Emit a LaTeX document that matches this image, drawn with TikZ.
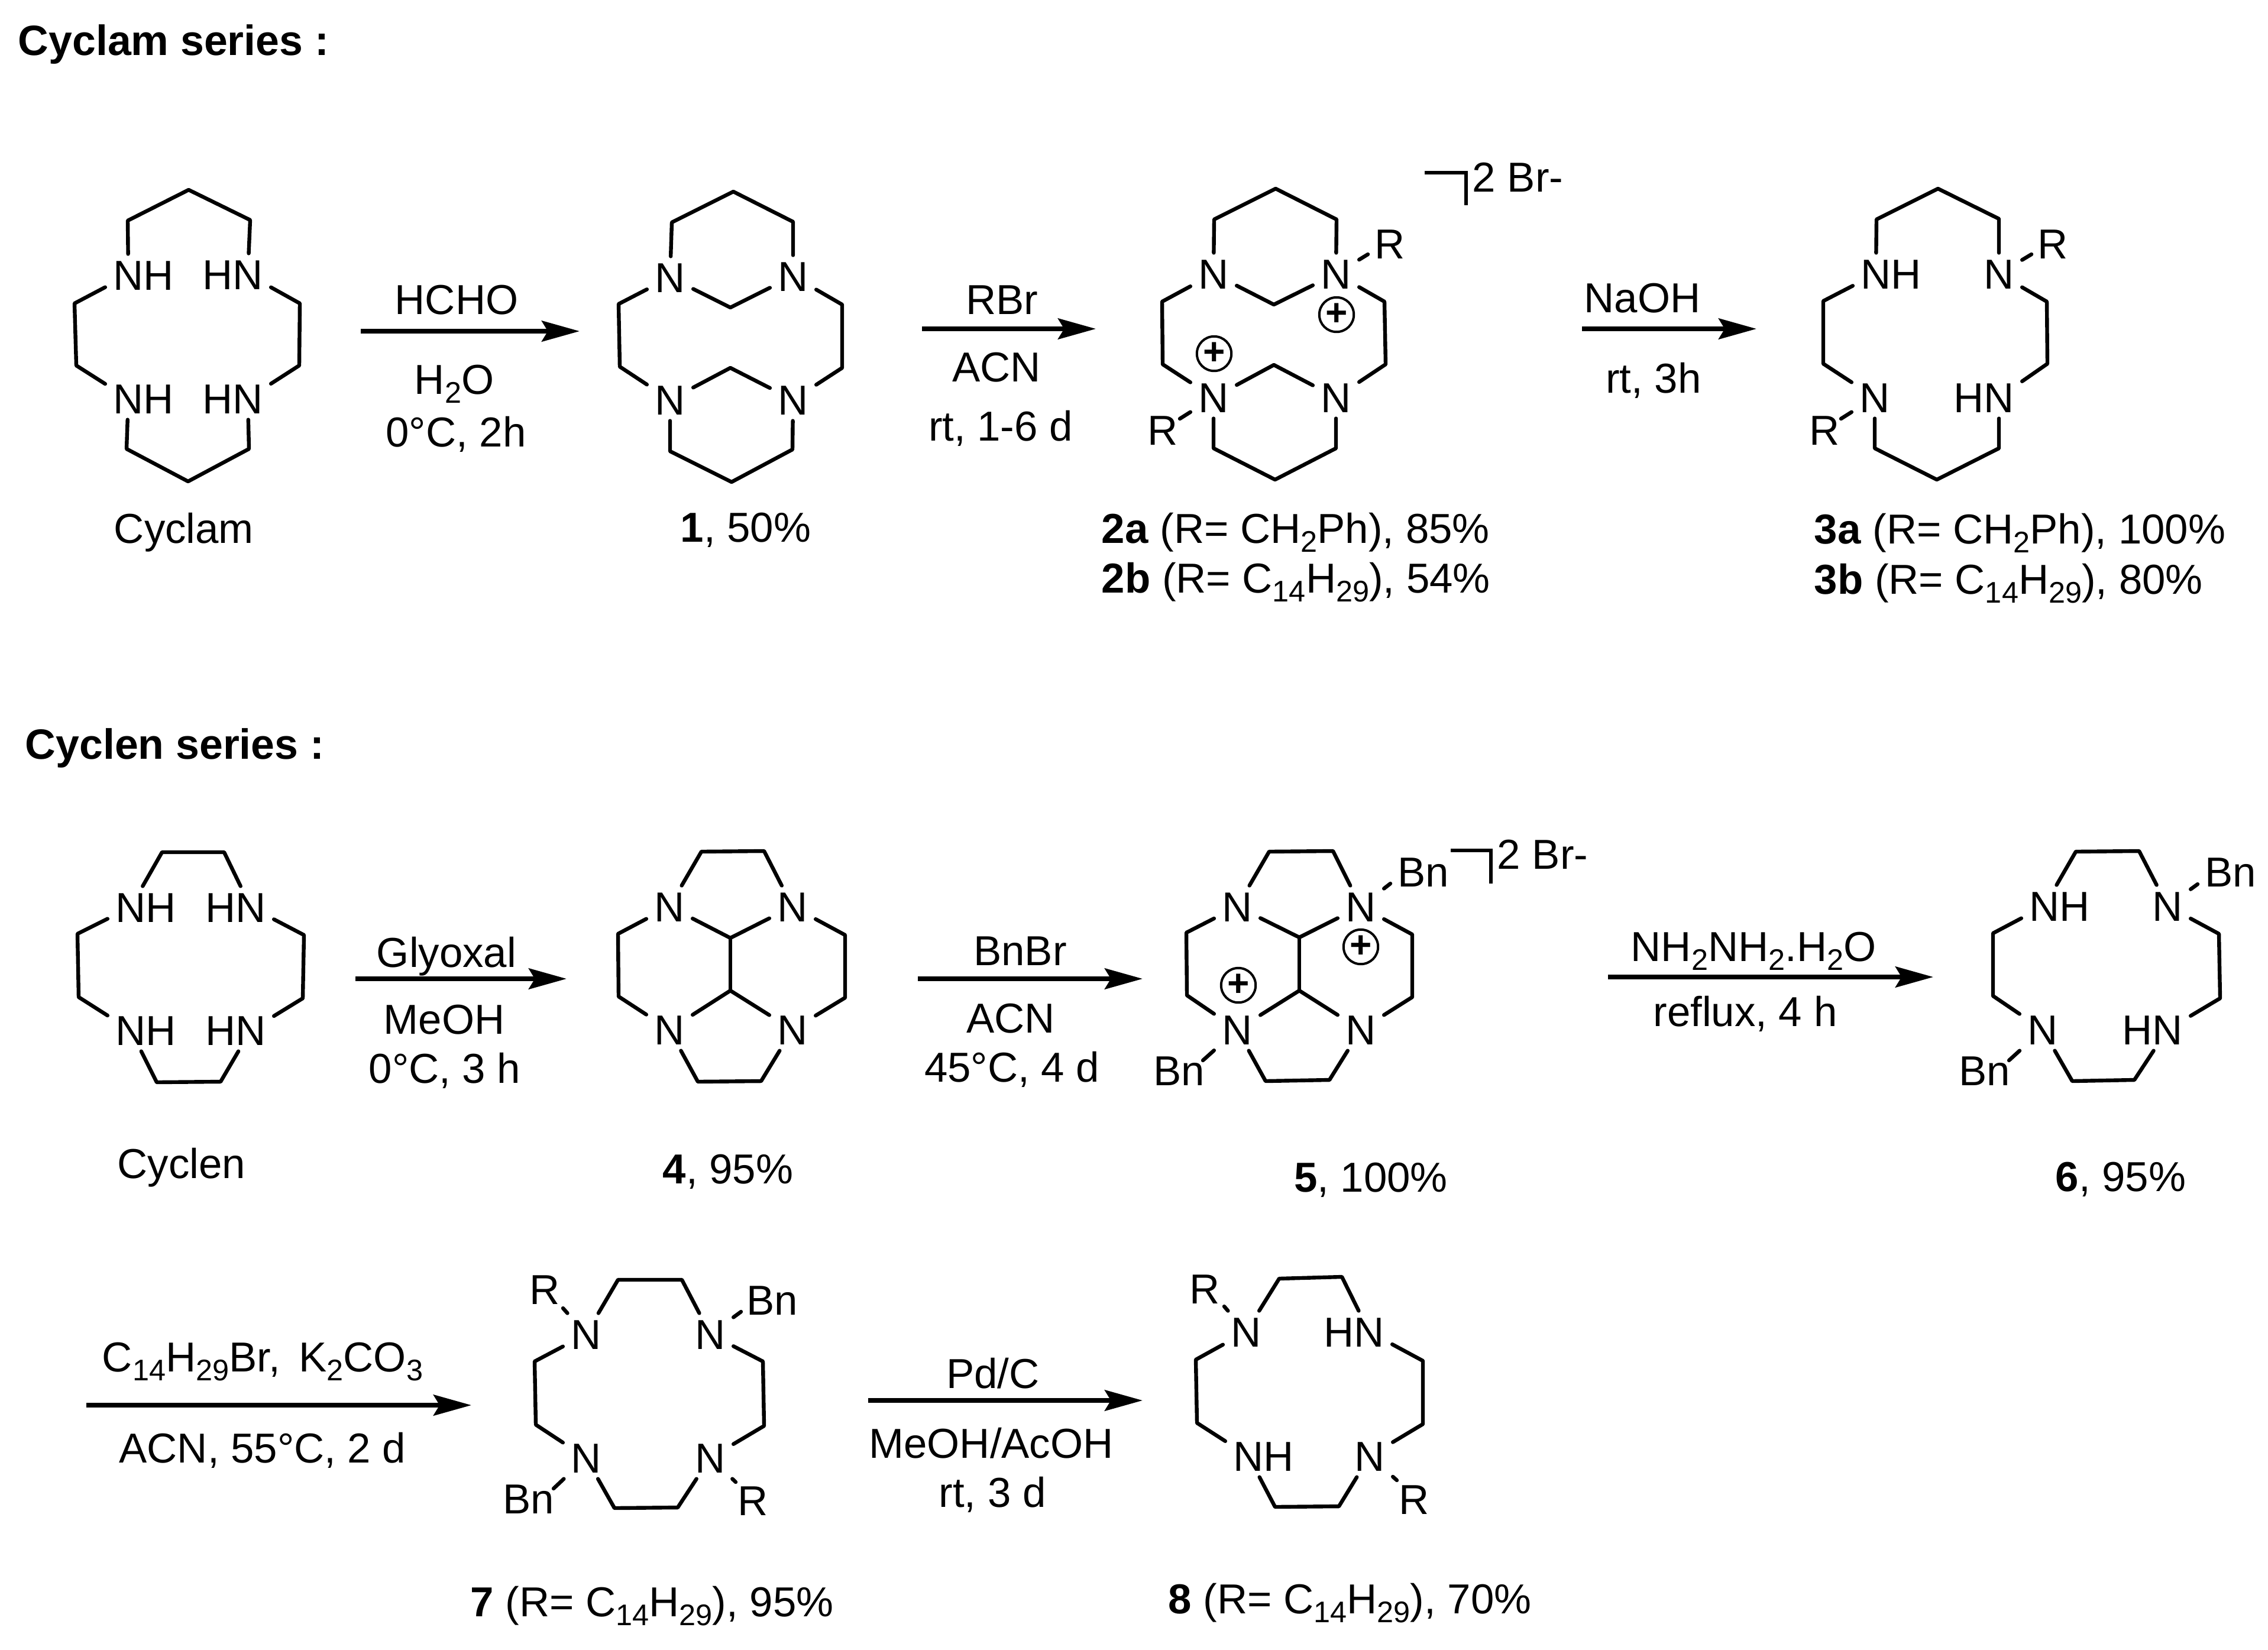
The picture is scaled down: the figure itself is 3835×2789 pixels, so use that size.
\documentclass[tikz,border=0pt]{standalone}
\usepackage{fontspec}
\setmainfont{Liberation Sans}
\usetikzlibrary{arrows.meta}
\newcommand{\sbs}[1]{\raisebox{-3.8pt}{\fontsize{12.6}{12.6}\selectfont #1}}
\newcommand{\ringA}[1]{\draw[bond] (#1a)--(#1ul)--(#1t)--(#1ur)--(#1b)--(#1ru)--(#1rl)--(#1c)--(#1lr)--(#1bo)--(#1ll)--(#1d)--(#1ld)--(#1lu)--(#1a);}
\newcommand{\ringB}[1]{\draw[bond] (#1a)--(#1ul)--(#1ur)--(#1b)--(#1ru)--(#1rl)--(#1c)--(#1lr)--(#1ll)--(#1d)--(#1ld)--(#1lu)--(#1a);}
\newcommand{\verts}[2]{\foreach \n/\x/\y in {#2} {\coordinate (#1\n) at (\x,\y);}}
\tikzset{
  bond/.style={line width=1.6pt,line cap=round,line join=round},
  rxn/.style={line width=1.8pt,-{Stealth[length=16pt,width=8.8pt,inset=2.6pt]}},
  atom/.style={inner xsep=3.2pt,inner ysep=2.4pt,text height=12.6pt,text depth=0pt,anchor=center},
  subst/.style={inner sep=0pt,text height=12.6pt,text depth=0pt,anchor=center},
  lab/.style={inner sep=0pt,anchor=base},
  labw/.style={inner sep=0pt,anchor=base west},
  plusc/.style={circle,draw,line width=1pt,minimum size=14.6pt,inner sep=0pt,font=\fontsize{16}{16}\bfseries\selectfont}
}
\begin{document}
\begin{tikzpicture}[x=0.25pt,y=-0.25pt,font=\fontsize{17.7}{20}\selectfont]
\fill[white] (0,0) rectangle (3835,2789);
\useasboundingbox (0,0) rectangle (3835,2789);
% titles
\node[labw,font=\fontsize{17.9}{20}\selectfont] (tA) at (30,93) {\textbf{Cyclam series :}};
\node[labw,font=\fontsize{17.9}{20}\selectfont] (tB) at (42,1283) {\textbf{Cyclen series :}};
% ---------- Cyclam
\node[atom] (c0a) at (217,465) {N\rlap{H}};
\node[atom] (c0b) at (419,464) {\llap{H}N};
\node[atom] (c0c) at (419,674) {\llap{H}N};
\node[atom] (c0d) at (217,674) {N\rlap{H}};
\verts{c0}{ul/216/373,t/319/321,ur/423/372,ru/507/513,rl/506/618,lr/421/759,bo/318/814,ll/214/759,ld/129/618,lu/126/513}
\ringA{c0}
\node[lab] (c0n) at (311,918) {Cyclam};
% arrow 1
\coordinate (a1s) at (610,560); \coordinate (a1e) at (980,560);
\draw[rxn] (a1s) -- (a1e);
\node[lab] (a1t) at (772,531) {HCHO};
\node[lab] (a1m) at (768,666) {H\sbs{2}O};
\node[lab] (a1b) at (771,755) {0°C, 2h};
% ---------- 1
\node[atom] (c1a) at (1133,469) {N};
\node[atom] (c1b) at (1341,467) {N};
\node[atom] (c1c) at (1341,676) {N};
\node[atom] (c1d) at (1133,676) {N};
\verts{c1}{ul/1136/376,t/1240/324,ur/1341/375,ru/1424/515,rl/1424/622,lr/1340/760,bo/1237/815,ll/1133/763,ld/1048/620,lu/1046/514,m1/1235/520,m2/1235/622}
\ringA{c1}
\draw[bond] (c1a)--(c1m1)--(c1b);
\draw[bond] (c1d)--(c1m2)--(c1c);
\node[lab] (c1n) at (1261,916) {\textbf{1}, 50\%};
% arrow 2
\coordinate (a2s) at (1559,556); \coordinate (a2e) at (1853,556);
\draw[rxn] (a2s) -- (a2e);
\node[lab] (a2t) at (1694,531) {RBr};
\node[lab] (a2m) at (1685,645) {ACN};
\node[lab] (a2b) at (1692,745) {rt, 1-6 d};
% ---------- 2
\node[atom] (c2a) at (2052,463) {N};
\node[atom] (c2b) at (2259,463) {N};
\node[atom] (c2c) at (2259,672) {N};
\node[atom] (c2d) at (2052,672) {N};
\verts{c2}{ul/2053/371,t/2157/319,ur/2260/371,ru/2341/510,rl/2343/616,lr/2259/758,bo/2156/811,ll/2052/758,ld/1966/616,lu/1965/510,m1/2154/515,m2/2154/617}
\ringA{c2}
\draw[bond] (c2a)--(c2m1)--(c2b);
\draw[bond] (c2d)--(c2m2)--(c2c);
\node[subst] (c2r1) at (2350,412) {R};
\node[subst] (c2r2) at (1966,727) {R};
\draw[bond] (c2b) -- ([shift={(-37,18)}]c2r1.center);
\draw[bond] (c2d) -- ([shift={(29,-19)}]c2r2.center);
\node[plusc] (c2p1) at (2260,532) {+};
\node[plusc] (c2p2) at (2053,598) {+};
\verts{br1}{p/2409/292,q/2479/292,r/2479/347}
\draw[bond,line cap=butt,line join=miter] (br1p)--(br1q)--(br1r);
\node[labw] (br1t) at (2489,324) {2 Br-};
\node[labw] (c2n1) at (1862,918) {\textbf{2a} (R= CH\sbs{2}Ph), 85\%};
\node[labw] (c2n2) at (1862,1002) {\textbf{2b} (R= C\sbs{14}H\sbs{29}), 54\%};
% arrow 3
\coordinate (a3s) at (2675,556); \coordinate (a3e) at (2970,556);
\draw[rxn] (a3s) -- (a3e);
\node[lab] (a3t) at (2777,528) {NaOH};
\node[lab] (a3b) at (2796,664) {rt, 3h};
% ---------- 3
\node[atom] (c3a) at (3172,463) {N\rlap{H}};
\node[atom] (c3b) at (3380,463) {N};
\node[atom] (c3c) at (3380,672) {\llap{H}N};
\node[atom] (c3d) at (3170,672) {N};
\verts{c3}{ul/3173/371,t/3277/319,ur/3380/370,ru/3461/510,rl/3462/615,lr/3380/758,bo/3275/811,ll/3170/758,ld/3083/615,lu/3083/509}
\ringA{c3}
\node[subst] (c3r1) at (3471,412) {R};
\node[subst] (c3r2) at (3085,727) {R};
\draw[bond] (c3b) -- ([shift={(-36,18)}]c3r1.center);
\draw[bond] (c3d) -- ([shift={(28,-19)}]c3r2.center);
\node[labw] (c3n1) at (3067,919) {\textbf{3a} (R= CH\sbs{2}Ph), 100\%};
\node[labw] (c3n2) at (3067,1004) {\textbf{3b} (R= C\sbs{14}H\sbs{29}), 80\%};
% ---------- Cyclen
\node[atom] (e0a) at (221,1534) {N\rlap{H}};
\node[atom] (e0b) at (424,1534) {\llap{H}N};
\node[atom] (e0c) at (424,1742) {\llap{H}N};
\node[atom] (e0d) at (221,1742) {N\rlap{H}};
\verts{e0}{ul/274/1441,ur/379/1441,ru/514/1581,rl/512/1688,lr/373/1829,ll/265/1830,ld/133/1686,lu/131/1579}
\ringB{e0}
\node[lab] (e0n) at (307,1992) {Cyclen};
% arrow 4
\coordinate (a4s) at (601,1655); \coordinate (a4e) at (958,1655);
\draw[rxn] (a4s) -- (a4e);
\node[lab] (a4t) at (755,1635) {Glyoxal};
\node[lab] (a4m) at (751,1748) {MeOH};
\node[lab] (a4b) at (752,1831) {0°C, 3 h};
% ---------- 4
\node[atom] (e4a) at (1132,1533) {N};
\node[atom] (e4b) at (1340,1533) {N};
\node[atom] (e4c) at (1340,1741) {N};
\node[atom] (e4d) at (1132,1741) {N};
\verts{e4}{ul/1186/1440,ur/1292/1439,ru/1429/1581,rl/1429/1687,lr/1287/1828,ll/1180/1829,ld/1046/1685,lu/1045/1579,m1/1235/1586,m2/1235/1675}
\ringB{e4}
\draw[bond] (e4a)--(e4m1)--(e4b);
\draw[bond] (e4d)--(e4m2)--(e4c);
\draw[bond] (e4m1)--(e4m2);
\node[lab] (e4n) at (1231,2001) {\textbf{4}, 95\%};
% arrow 5
\coordinate (a5s) at (1552,1655); \coordinate (a5e) at (1932,1655);
\draw[rxn] (a5s) -- (a5e);
\node[lab] (a5t) at (1725,1632) {BnBr};
\node[lab] (a5m) at (1709,1746) {ACN};
\node[lab] (a5b) at (1711,1829) {45°C, 4 d};
% ---------- 5
\node[atom] (e5a) at (2092,1533) {N};
\node[atom] (e5b) at (2301,1533) {N};
\node[atom] (e5c) at (2301,1741) {N};
\node[atom] (e5d) at (2092,1741) {N};
\verts{e5}{ul/2146/1440,ur/2254/1439,ru/2388/1580,rl/2388/1686,lr/2248/1826,ll/2140/1828,ld/2007/1683,lu/2006/1577,m1/2197/1585,m2/2197/1675}
\ringB{e5}
\draw[bond] (e5a)--(e5m1)--(e5b);
\draw[bond] (e5d)--(e5m2)--(e5c);
\draw[bond] (e5m1)--(e5m2);
\node[subst] (e5r1) at (2407,1474) {Bn};
\node[subst] (e5r2) at (1994,1810) {Bn};
\draw[bond] (e5b) -- ([shift={(-56,20)}]e5r1.center);
\draw[bond] (e5d) -- ([shift={(40,-17)}]e5r2.center);
\node[plusc] (e5p1) at (2301,1601) {+};
\node[plusc] (e5p2) at (2094,1666) {+};
\verts{br2}{p/2453/1438,q/2521/1438,r/2521/1494}
\draw[bond,line cap=butt,line join=miter] (br2p)--(br2q)--(br2r);
\node[labw] (br2t) at (2531,1469) {2 Br-};
\node[lab] (e5n) at (2318,2015) {\textbf{5}, 100\%};
% arrow 6
\coordinate (a6s) at (2719,1652); \coordinate (a6e) at (3269,1652);
\draw[rxn] (a6s) -- (a6e);
\node[lab] (a6t) at (2965,1625) {NH\sbs{2}NH\sbs{2}.H\sbs{2}O};
\node[lab] (a6b) at (2951,1735) {reflux, 4 h};
% ---------- 6
\node[atom] (e6a) at (3457,1532) {N\rlap{H}};
\node[atom] (e6b) at (3665,1532) {N};
\node[atom] (e6c) at (3665,1741) {\llap{H}N};
\node[atom] (e6d) at (3454,1741) {N};
\verts{e6}{ul/3510/1440,ur/3617/1439,ru/3752/1579,rl/3754/1688,lr/3609/1826,ll/3504/1828,ld/3370/1684,lu/3370/1578}
\ringB{e6}
\node[subst] (e6r1) at (3772,1474) {Bn};
\node[subst] (e6r2) at (3356,1810) {Bn};
\draw[bond] (e6b) -- ([shift={(-56,21)}]e6r1.center);
\draw[bond] (e6d) -- ([shift={(41,-17)}]e6r2.center);
\node[lab] (e6n) at (3586,2014) {\textbf{6}, 95\%};
% arrow 7
\coordinate (a7s) at (146,2376); \coordinate (a7e) at (797,2376);
\draw[rxn] (a7s) -- (a7e);
\node[lab] (a7t) at (444,2319) {C\sbs{14}H\sbs{29}Br,\hspace{3pt} K\sbs{2}CO\sbs{3}};
\node[lab] (a7b) at (444,2473) {ACN, 55°C, 2 d};
% ---------- 7
\node[atom] (e7a) at (991,2256) {N};
\node[atom] (e7b) at (1201,2256) {N};
\node[atom] (e7c) at (1201,2465) {N};
\node[atom] (e7d) at (991,2465) {N};
\verts{e7}{ul/1045/2164,ur/1153/2164,ru/1290/2302,rl/1292/2411,lr/1146/2549,ll/1039/2550,ld/906/2409,lu/904/2302}
\ringB{e7}
\node[subst] (e7r1) at (921,2180) {R};
\node[subst] (e7r2) at (1306,2198) {Bn};
\node[subst] (e7r3) at (894,2534) {Bn};
\node[subst] (e7r4) at (1273,2537) {R};
\draw[bond] (e7a) -- ([shift={(31,32)}]e7r1.center);
\draw[bond] (e7b) -- ([shift={(-53,20)}]e7r2.center);
\draw[bond] (e7d) -- ([shift={(42,-17)}]e7r3.center);
\draw[bond] (e7c) -- ([shift={(-29,-31)}]e7r4.center);
\node[labw] (e7n) at (795,2733) {\textbf{7} (R= C\sbs{14}H\sbs{29}), 95\%};
% arrow 8
\coordinate (a8s) at (1468,2368); \coordinate (a8e) at (1932,2368);
\draw[rxn] (a8s) -- (a8e);
\node[lab] (a8t) at (1679,2347) {Pd/C};
\node[lab] (a8m) at (1676,2465) {MeOH/AcOH};
\node[lab] (a8b) at (1678,2548) {rt, 3 d};
% ---------- 8
\node[atom] (e8a) at (2107,2252) {N};
\node[atom] (e8b) at (2315,2252) {\llap{H}N};
\node[atom] (e8c) at (2316,2462) {N};
\node[atom] (e8d) at (2111,2462) {N\rlap{H}};
\verts{e8}{ul/2163/2162,ur/2269/2159,ru/2406/2301,rl/2406/2408,lr/2264/2547,ll/2156/2548,ld/2024/2406,lu/2022/2299}
\ringB{e8}
\node[subst] (e8r1) at (2037,2179) {R};
\node[subst] (e8r2) at (2391,2535) {R};
\draw[bond] (e8a) -- ([shift={(33,30)}]e8r1.center);
\draw[bond] (e8c) -- ([shift={(-29,-32)}]e8r2.center);
\node[labw] (e8n) at (1975,2728) {\textbf{8} (R= C\sbs{14}H\sbs{29}), 70\%};
\end{tikzpicture}
\end{document}
